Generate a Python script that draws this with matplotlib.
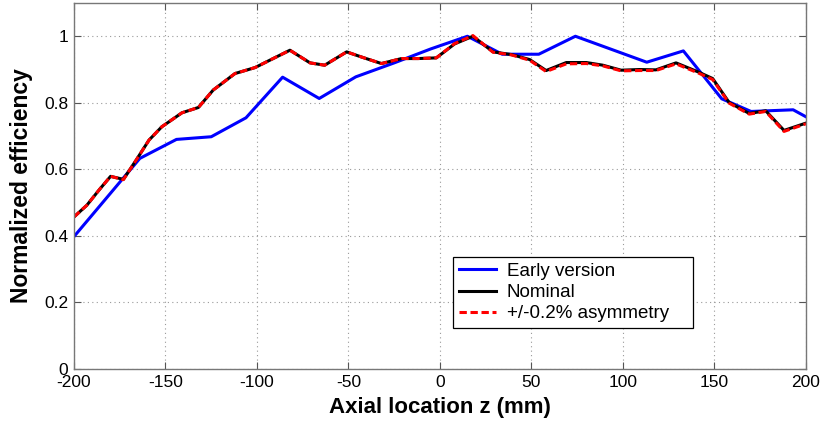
import matplotlib.pyplot as plt

plt.rcParams['font.family'] = ['Liberation Sans', 'DejaVu Sans']
plt.rcParams['axes.unicode_minus'] = False

# efficiency vs axial position, early detector version
z_early = [-200, -164, -144, -125, -106, -86, -66, -46, -25, -5, 15, 34, 54, 74, 113, 133, 154, 170, 193, 200]
eff_early = [0.398, 0.633, 0.690, 0.698, 0.755, 0.877, 0.813, 0.878, 0.920, 0.962, 1.000, 0.946, 0.946, 1.000,
             0.922, 0.956, 0.812, 0.774, 0.779, 0.758]

# nominal geometry
z_nom = [-200, -193, -186, -180, -173, -166, -159, -152, -141, -132, -124, -118, -112, -101, -93, -82,
         -71, -63, -51, -42, -32, -21, -12, -2, 8, 18, 29, 39, 49, 58, 69, 80, 89, 99, 109, 118,
         129, 141, 149, 158, 169, 178, 188, 200]
eff_nom = [0.457, 0.492, 0.540, 0.579, 0.570, 0.628, 0.688, 0.728, 0.770, 0.786, 0.838, 0.863, 0.888,
           0.906, 0.928, 0.958, 0.920, 0.913, 0.953, 0.936, 0.918, 0.933, 0.933, 0.935, 0.977, 1.000,
           0.953, 0.945, 0.930, 0.897, 0.921, 0.921, 0.913, 0.898, 0.900, 0.899, 0.920, 0.893, 0.873,
           0.801, 0.768, 0.776, 0.717, 0.739]

# +/-0.2% asymmetry
eff_asym = [0.457, 0.492, 0.540, 0.579, 0.569, 0.628, 0.688, 0.728, 0.770, 0.786, 0.838, 0.863, 0.888,
            0.906, 0.928, 0.958, 0.920, 0.913, 0.953, 0.936, 0.918, 0.933, 0.933, 0.935, 0.978, 1.002,
            0.952, 0.944, 0.928, 0.894, 0.917, 0.918, 0.911, 0.896, 0.897, 0.897, 0.917, 0.890, 0.870,
            0.799, 0.766, 0.774, 0.714, 0.737]

xticks = [-200, -150, -100, -50, 0, 50, 100, 150, 200]
yticks = [0, 0.2, 0.4, 0.6, 0.8, 1]
ytick_labels = ['0', '0.2', '0.4', '0.6', '0.8', '1']

fig = plt.figure(figsize=(8.23, 4.26), dpi=100)
ax = fig.add_axes([0.0899, 0.1338, 0.8894, 0.8592])

ax.plot(z_early, eff_early, color='#0000ff', lw=2.2, label='Early version')
ax.plot(z_nom, eff_nom, color='black', lw=2.2, label='Nominal')
ax.plot(z_nom, eff_asym, color='#ff0000', lw=2.2, dashes=(2.4, 1.2), label='+/-0.2% asymmetry')

ax.set_xlim(-200, 200)
ax.set_ylim(0, 1.1)
ax.set_xticks(xticks)
ax.set_yticks(yticks)
ax.set_yticklabels(ytick_labels)
ax.tick_params(direction='in', length=5, top=True, right=True, labelsize=12.5, colors='#555555',
               labelcolor='black')
ax.tick_params(axis='x', pad=4)
ax.tick_params(axis='y', pad=4)
ax.grid(True, linestyle=(0, (1, 3)), color='#999999', linewidth=0.8)
for s in ax.spines.values():
    s.set_color('#777777')
    s.set_linewidth(1.0)

ax.set_xlabel('Axial location z (mm)', fontsize=16, fontweight='bold', labelpad=5)
ax.set_ylabel('Normalized efficiency', fontsize=16.5, fontweight='bold', labelpad=8)

leg = ax.legend(loc='lower left', bbox_to_anchor=(0.518, 0.112, 0.327, 0.191), mode='expand',
                fontsize=13.5, frameon=True, fancybox=False, edgecolor='black', framealpha=1,
                handlelength=2.0, handletextpad=0.55, borderpad=0.3, labelspacing=0.22, borderaxespad=0)
leg.get_frame().set_linewidth(0.9)

fig.savefig('out.png', dpi=100)
